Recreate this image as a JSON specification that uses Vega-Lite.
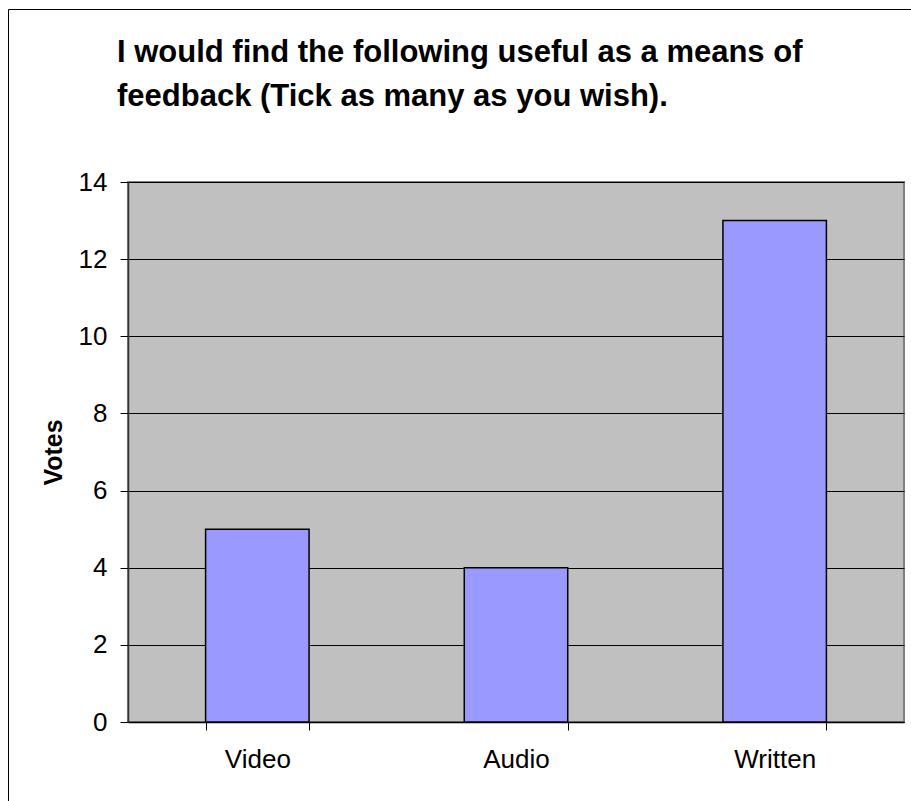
{
  "$schema": "https://vega.github.io/schema/vega-lite/v6.json",
  "width": 776,
  "height": 540,
  "autosize": "none",
  "padding": {"left": 128, "top": 182, "right": 7, "bottom": 79},
  "background": "white",
  "title": {
    "text": ["I would find the following useful as a means of", "feedback (Tick as many as you wish)."],
    "anchor": "start",
    "frame": "group",
    "dx": -11,
    "dy": 104,
    "offset": 0,
    "font": "Liberation Sans",
    "fontSize": 31,
    "fontWeight": "bold",
    "lineHeight": 44,
    "color": "black"
  },
  "data": {
    "values": [
      {"source": "Video", "votes": 5},
      {"source": "Audio", "votes": 4},
      {"source": "Written", "votes": 13}
    ]
  },
  "mark": {"type": "bar", "stroke": "black", "strokeWidth": 1.5},
  "encoding": {
    "x": {
      "field": "source",
      "type": "nominal",
      "sort": null,
      "scale": {"paddingInner": 0.6, "paddingOuter": 0.3},
      "axis": {
        "title": null,
        "labelAngle": 0,
        "tickBand": "extent",
        "tickSize": 8,
        "tickColor": "black",
        "domainColor": "black",
        "domainWidth": 1.5,
        "labelFont": "Liberation Sans",
        "labelFontSize": 26,
        "labelColor": "black",
        "labelPadding": 16,
        "grid": false
      }
    },
    "y": {
      "field": "votes",
      "type": "quantitative",
      "scale": {"domain": [0, 14]},
      "axis": {
        "values": [0, 2, 4, 6, 8, 10, 12, 14],
        "title": "Votes",
        "titleFont": "Liberation Sans",
        "titleFontSize": 25,
        "titleFontWeight": "bold",
        "titleColor": "black",
        "titlePadding": 12,
        "labelFont": "Liberation Sans",
        "labelFontSize": 26,
        "labelColor": "black",
        "labelPadding": 13,
        "tickSize": 8,
        "tickColor": "black",
        "domainColor": "#333333",
        "domainWidth": 1.5,
        "gridColor": "black",
        "gridWidth": 1
      }
    },
    "fill": {
      "datum": "chart area",
      "scale": {"range": ["#9999FF"]},
      "legend": {
        "orient": "none",
        "legendX": -120,
        "legendY": -173,
        "padding": 1200,
        "strokeColor": "black",
        "title": null,
        "symbolSize": 0,
        "symbolOpacity": 0,
        "labelExpr": "''",
        "encode": {"legend": {"update": {"strokeWidth": {"value": 3}}}}
      }
    }
  },
  "config": {
    "view": {"fill": "#C0C0C0", "stroke": "#808080", "strokeWidth": 2}
  }
}
